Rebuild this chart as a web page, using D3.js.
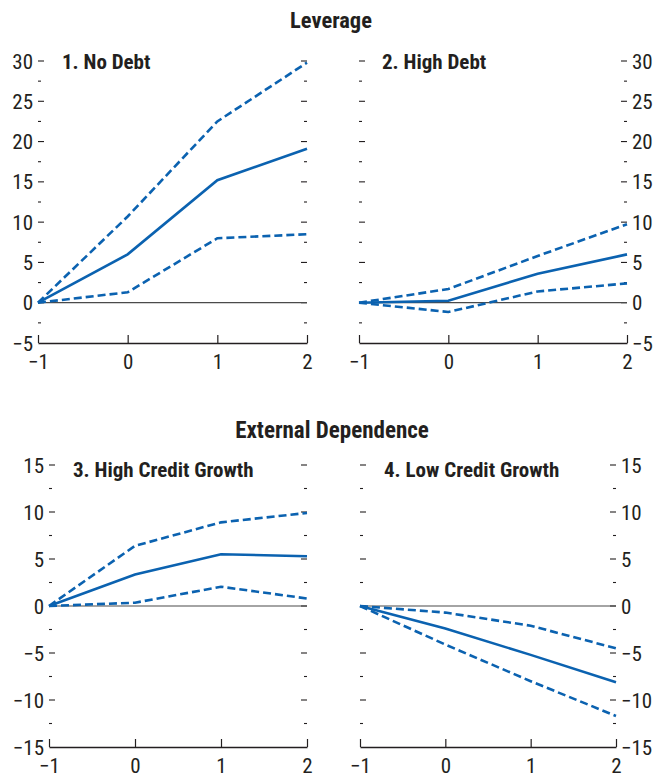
<!DOCTYPE html>
<html><head><meta charset="utf-8">
<script src="https://cdn.jsdelivr.net/npm/d3@7"></script>
<style>
html,body{margin:0;padding:0;background:#fff;}
svg{display:block;}
text{font-family:"Liberation Sans Narrow","Arial Narrow","Roboto Condensed","Liberation Sans",sans-serif;fill:#231f20;}
</style></head>
<body><svg id="chart" width="655" height="778"></svg>
<script>
const years = [-1, 0, 1, 2];
const xTicks = [-1, 0, 1, 2];
const sectionTitles = ["Leverage", "External Dependence"];
const panelTitles = ["1. No Debt", "2. High Debt", "3. High Credit Growth", "4. Low Credit Growth"];
const yTicksTop = [-5, 0, 5, 10, 15, 20, 25, 30];
const yTicksBottom = [-15, -10, -5, 0, 5, 10, 15];

// Panel 1: No Debt
const noDebtMid = [0, 6.0, 15.2, 19.1];
const noDebtUp = [0, 10.7, 22.5, 29.8];
const noDebtLow = [0, 1.3, 8.0, 8.5];
// Panel 2: High Debt
const highDebtMid = [0, 0.25, 3.6, 6.0];
const highDebtUp = [0, 1.7, 5.8, 9.75];
const highDebtLow = [0, -1.15, 1.4, 2.4];
// Panel 3: High Credit Growth
const highCreditMid = [0, 3.35, 5.5, 5.3];
const highCreditUp = [0, 6.4, 8.9, 9.9];
const highCreditLow = [0, 0.35, 2.05, 0.8];
// Panel 4: Low Credit Growth
const lowCreditMid = [0, -2.4, -5.2, -8.1];
const lowCreditUp = [0, -0.7, -2.1, -4.5];
const lowCreditLow = [0, -4.1, -8.0, -11.7];

const svg = d3.select("#chart");
const blue = "#0b62b0";

svg.append("text").attr("x", 331).attr("y", 28).attr("text-anchor", "middle")
  .attr("font-size", 22.5).attr("font-weight", "bold").text(sectionTitles[0]);
svg.append("text").attr("x", 332).attr("y", 438).attr("text-anchor", "middle")
  .attr("font-size", 23).attr("font-weight", "bold").text(sectionTitles[1]);

function panel(cfg) {
  const x = d3.scaleLinear().domain([-1, 2]).range(cfg.xr);
  const y = d3.scaleLinear().domain(cfg.yd).range(cfg.yr);
  const g = svg.append("g");
  const major = cfg.ticks;
  const minor = d3.range(cfg.yd[0] + 2.5, cfg.yd[1], 5);
  const xl = cfg.xr[0], xr = cfg.xr[1];
  // side tick marks, drawn inward
  [[xl, 1], [xr, -1]].forEach(([xe, dir]) => {
    g.selectAll(null).data(major.filter(v => v !== cfg.yd[0])).enter().append("line")
      .attr("x1", xe).attr("x2", xe + dir * 6)
      .attr("y1", d => y(d)).attr("y2", d => y(d))
      .attr("stroke", "#231f20").attr("stroke-width", 1.1);
    g.selectAll(null).data(minor).enter().append("line")
      .attr("x1", xe).attr("x2", xe + dir * 3)
      .attr("y1", d => y(d)).attr("y2", d => y(d))
      .attr("stroke", "#231f20").attr("stroke-width", 1.1);
  });
  // tick labels
  const fmt = d3.format("d");
  g.selectAll(null).data(major).enter().append("text")
    .attr("x", cfg.labelSide === "left" ? xl - 5 : xr + 5)
    .attr("y", d => y(d))
    .attr("dy", "0.36em")
    .attr("text-anchor", cfg.labelSide === "left" ? "end" : "start")
    .attr("font-size", 21)
    .text(d => fmt(d));
  // zero line
  g.append("line").attr("x1", xl).attr("x2", xr).attr("y1", y(0)).attr("y2", y(0))
    .attr("stroke", "#4a4a4a").attr("stroke-width", 1.2);
  // bottom axis
  const xAxis = d3.axisBottom(x).tickValues(xTicks).tickSize(-8).tickSizeOuter(0).tickFormat(fmt);
  const ax = g.append("g").attr("transform", `translate(0,${cfg.yr[0]})`).call(xAxis);
  ax.select(".domain").attr("stroke", "#231f20").attr("stroke-width", 1.4);
  ax.selectAll(".tick line").attr("stroke", "#231f20").attr("stroke-width", 1.2);
  ax.selectAll(".tick text").attr("font-size", 21).attr("y", 11).attr("dy", "0.71em")
    .attr("fill", "#231f20").attr("font-family", null);
  ax.attr("font-family", null).attr("font-size", null);
  // lines
  const line = d3.line().x((d, i) => x(years[i])).y(d => y(d));
  [[cfg.up, "8,4"], [cfg.low, "8,4"], [cfg.mid, null]].forEach(([vals, dash]) => {
    g.append("path").datum(vals).attr("d", line)
      .attr("fill", "none").attr("stroke", blue).attr("stroke-width", 2.6)
      .attr("stroke-dasharray", dash);
  });
  // panel title
  g.append("text").attr("x", cfg.tx).attr("y", cfg.ty).attr("font-size", 21)
    .attr("font-weight", "bold").text(cfg.title);
}

panel({xr: [38, 307], yd: [-5, 30], yr: [343, 61], ticks: yTicksTop, labelSide: "left",
  mid: noDebtMid, up: noDebtUp, low: noDebtLow, title: panelTitles[0], tx: 62, ty: 69});
panel({xr: [359, 627], yd: [-5, 30], yr: [343, 61], ticks: yTicksTop, labelSide: "right",
  mid: highDebtMid, up: highDebtUp, low: highDebtLow, title: panelTitles[1], tx: 382, ty: 69});
panel({xr: [49, 307], yd: [-15, 15], yr: [747, 465], ticks: yTicksBottom, labelSide: "left",
  mid: highCreditMid, up: highCreditUp, low: highCreditLow, title: panelTitles[2], tx: 73, ty: 477});
panel({xr: [360, 616], yd: [-15, 15], yr: [747, 465], ticks: yTicksBottom, labelSide: "right",
  mid: lowCreditMid, up: lowCreditUp, low: lowCreditLow, title: panelTitles[3], tx: 384, ty: 477});
</script></body></html>
